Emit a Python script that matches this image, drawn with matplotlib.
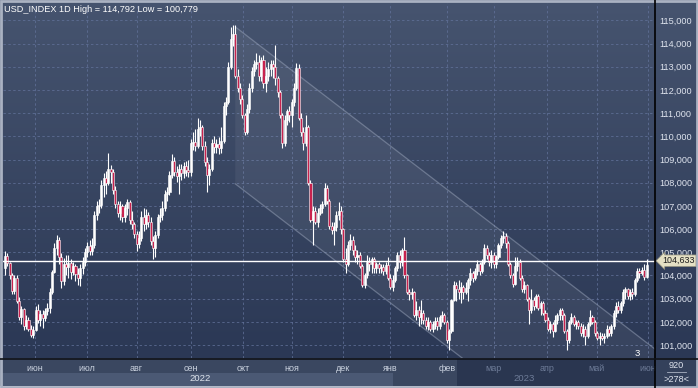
import numpy as np
import matplotlib.pyplot as plt
import matplotlib.colors as mcolors
from matplotlib.patches import Rectangle
from matplotlib.transforms import blended_transform_factory

plt.rcParams['font.family'] = ['Liberation Sans', 'DejaVu Sans']

W, H = 698, 388

# ── DATA: USD_INDEX daily candles ────────────────────────────────────────────
opens = [
    104.3, 104.85, 104.55, 104.0, 103.35, 103.9, 102.9, 102.2, 102.55, 101.8,
    102.1, 101.7, 101.45, 101.65, 102.5, 102.1, 102.35, 102.15, 102.45, 102.6,
    103.3, 104.15, 105.2, 105.55, 104.8, 103.75, 104.5, 104.35, 104.55, 104.15,
    104.4, 104.05, 103.9, 104.3, 104.6, 105.0, 105.25, 105.05, 105.3, 106.6,
    107.0, 107.05, 107.9, 108.2, 108.0, 108.6, 108.45, 107.7, 107.1, 106.7,
    107.0, 106.5, 106.9, 107.15, 106.4, 106.2, 105.8, 105.35, 105.6, 106.5,
    106.2, 106.6, 106.3, 105.5, 105.2, 105.75, 106.5, 106.6, 106.9, 107.5,
    107.6, 108.35, 108.95, 108.45, 108.3, 108.6, 108.4, 108.7, 108.55, 108.45,
    109.7, 109.75, 109.6, 110.3, 110.4, 109.6, 108.9, 108.35, 108.6, 109.7,
    109.55, 109.65, 109.5, 109.8, 111.3, 111.5, 113.0, 114.2, 114.4, 112.6,
    112.1, 111.6, 110.9, 110.2, 111.2, 112.1, 112.8, 113.1, 113.2, 112.6,
    113.3, 112.3, 112.6, 112.9, 113.1, 113.0, 112.5, 111.9, 110.9, 109.7,
    110.7, 111.1, 110.9, 111.5, 112.1, 112.95, 110.8, 110.2, 109.7, 110.4,
    108.0, 106.4, 106.8, 106.3, 106.7, 106.9, 107.1, 107.75, 107.2, 106.15,
    105.95, 106.1, 106.6, 106.8, 106.0, 104.7, 104.5, 105.3, 105.55, 105.1,
    104.8, 104.9, 104.4, 103.6, 104.0, 104.6, 104.5, 104.7, 104.3, 104.5,
    104.3, 104.35, 104.2, 104.45, 103.9, 103.5, 103.8, 104.3, 104.9, 104.6,
    105.1, 104.0, 103.3, 103.2, 103.3, 102.3, 102.5, 102.2, 102.4, 102.1,
    101.8, 102.0, 101.7, 101.9, 102.05, 101.8, 102.2, 102.3, 102.0, 101.2,
    101.6, 102.95, 103.6, 103.4, 103.3, 103.5, 103.3, 103.45, 103.8, 104.1,
    103.9, 104.2, 104.5, 104.2, 104.6, 105.2, 104.9, 104.6, 104.9, 104.5,
    104.8, 105.3, 105.6, 105.7, 105.4, 104.5, 104.0, 103.65, 104.4, 104.6,
    103.9, 103.4, 103.6, 103.0, 102.5, 102.95, 102.7, 103.1, 102.6, 102.8,
    102.4, 102.1, 101.7, 101.9, 101.6, 102.1, 102.3, 102.5, 102.3, 101.6,
    101.2, 102.0, 102.2, 101.9, 102.0, 101.8, 101.5, 101.7, 101.4, 101.9,
    102.2, 102.0, 101.5, 101.3, 101.4, 101.3, 101.4, 101.7, 101.5, 101.8,
    102.4, 102.7, 102.5, 102.8, 103.3, 103.4, 103.1, 103.3, 103.2, 103.8,
    104.2, 104.1, 104.25, 103.95,
]
highs = [
    105.05, 104.95, 104.6, 104.1, 104.0, 104.0, 103.05, 102.7, 102.6, 102.3,
    102.2, 101.85, 101.8, 102.7, 102.75, 102.5, 102.5, 102.6, 102.8, 103.45,
    104.25, 105.4, 105.75, 105.65, 104.95, 104.75, 104.9, 104.9, 104.7, 104.6,
    104.5, 104.3, 104.5, 104.8, 105.2, 105.45, 105.55, 105.6, 106.8, 107.2,
    107.3, 108.1, 108.4, 108.5, 109.3, 108.75, 108.6, 107.85, 107.2, 107.2,
    107.1, 107.1, 107.3, 107.25, 106.8, 106.3, 105.9, 105.9, 106.8, 106.9,
    106.85, 106.75, 106.5, 105.7, 105.9, 106.65, 106.9, 107.2, 107.7, 107.8,
    108.5, 109.25, 109.1, 108.7, 108.8, 108.8, 108.9, 108.95, 109.0, 109.9,
    110.2, 110.3, 110.8, 110.7, 110.5, 109.8, 109.1, 108.8, 109.9, 110.0,
    109.9, 109.95, 110.4, 111.5, 111.7, 113.2, 114.7, 114.78, 114.792, 112.9,
    112.3, 111.8, 111.0, 111.4, 112.3, 113.0, 113.3, 113.6, 113.5, 113.4,
    113.5, 113.0, 113.2, 113.3, 113.3, 113.95, 112.6, 112.0, 111.0, 110.9,
    111.2, 111.3, 111.6, 112.3, 113.15, 113.1, 111.0, 110.4, 110.9, 110.5,
    108.1, 107.0, 106.95, 106.9, 107.1, 107.2, 108.0, 107.9, 107.3, 106.3,
    106.3, 106.8, 107.15, 107.0, 106.05, 105.2, 105.5, 105.8, 105.7, 105.3,
    105.1, 105.0, 104.5, 104.1, 104.9, 104.8, 104.8, 104.8, 104.6, 104.6,
    104.5, 104.5, 104.6, 104.8, 104.05, 104.0, 104.4, 105.0, 105.1, 105.2,
    105.65, 104.05, 103.4, 103.45, 103.35, 102.9, 102.7, 102.95, 102.5, 102.2,
    102.2, 102.1, 102.05, 102.2, 102.2, 102.3, 102.45, 102.4, 102.1, 101.7,
    103.0, 103.75, 103.7, 103.8, 103.7, 103.6, 103.7, 103.9, 104.3, 104.2,
    104.3, 104.65, 104.6, 104.7, 105.35, 105.3, 105.0, 105.1, 105.0, 104.9,
    105.4, 105.75, 105.9, 105.85, 105.5, 104.6, 104.1, 104.8, 104.8, 104.7,
    104.0, 103.75, 103.65, 103.05, 103.4, 103.05, 103.2, 103.2, 102.9, 102.9,
    102.5, 102.2, 102.05, 102.0, 102.3, 102.4, 102.6, 102.6, 102.4, 101.7,
    102.1, 102.4, 102.3, 102.1, 102.1, 101.95, 101.9, 101.8, 102.0, 102.5,
    102.3, 102.1, 101.6, 101.55, 101.5, 101.5, 101.85, 101.8, 101.9, 102.5,
    102.85, 102.9, 102.9, 103.4, 103.5, 103.45, 103.4, 103.45, 103.9, 104.3,
    104.3, 104.35, 104.5, 104.7,
]
lows = [
    104.0, 104.4, 103.85, 103.2, 103.2, 102.8, 102.1, 101.9, 101.65, 101.7,
    101.6, 101.35, 101.3, 101.6, 101.95, 101.8, 101.75, 102.05, 102.3, 102.4,
    103.2, 104.1, 104.9, 104.5, 103.45, 103.6, 104.0, 103.9, 103.85, 104.0,
    103.75, 103.6, 103.55, 104.05, 104.4, 104.8, 104.9, 104.9, 105.2, 106.4,
    106.7, 106.9, 107.4, 107.5, 107.9, 108.0, 107.5, 106.9, 106.5, 106.4,
    106.3, 106.3, 106.6, 106.2, 106.0, 105.6, 105.05, 105.2, 105.5, 105.9,
    106.0, 106.1, 105.3, 104.7, 104.8, 105.6, 106.3, 106.4, 106.8, 107.2,
    107.45, 108.2, 108.3, 108.05, 107.5, 108.1, 108.2, 108.3, 108.25, 108.3,
    109.4, 109.35, 109.5, 110.0, 109.4, 108.7, 107.6, 107.9, 108.5, 109.3,
    109.3, 109.25, 109.3, 109.7, 110.9, 111.4, 112.9, 113.9, 112.5, 111.9,
    111.4, 110.8, 110.05, 110.1, 111.0, 111.9, 112.6, 112.9, 112.4, 112.4,
    112.1, 111.9, 112.4, 112.6, 112.5, 112.2, 111.7, 110.8, 109.5, 109.6,
    110.5, 110.6, 110.4, 111.3, 112.0, 110.7, 110.0, 109.4, 109.6, 107.9,
    106.3, 105.3, 106.2, 106.1, 106.6, 106.7, 107.0, 107.1, 106.0, 105.8,
    105.3, 105.9, 106.4, 105.8, 104.6, 104.1, 104.4, 105.1, 104.9, 104.6,
    104.5, 104.3, 103.5, 103.46, 103.9, 104.2, 104.1, 104.1, 104.1, 104.1,
    104.1, 104.0, 104.05, 103.8, 103.4, 103.35, 103.7, 104.2, 104.3, 104.4,
    103.9, 103.2, 102.95, 103.0, 102.2, 102.1, 101.8, 101.9, 101.9, 101.7,
    101.65, 101.6, 101.55, 101.7, 101.65, 101.7, 102.0, 101.9, 101.1, 100.779,
    101.5, 102.9, 102.9, 103.0, 102.8, 103.0, 103.2, 102.9, 103.6, 103.7,
    103.8, 104.0, 104.0, 104.1, 104.5, 104.7, 104.4, 104.3, 104.3, 104.3,
    104.7, 105.2, 105.4, 105.2, 104.4, 103.9, 103.5, 103.6, 104.2, 103.8,
    103.3, 103.25, 102.9, 101.9, 102.4, 102.5, 102.6, 102.5, 102.3, 102.3,
    102.0, 101.6, 101.5, 101.35, 101.55, 101.9, 102.1, 102.1, 101.5, 100.8,
    101.1, 101.9, 101.8, 101.7, 101.7, 101.4, 101.35, 101.0, 101.3, 101.8,
    101.9, 101.4, 101.2, 101.0, 101.2, 101.1, 101.3, 101.4, 101.4, 101.7,
    102.2, 102.4, 102.4, 102.7, 103.0, 103.0, 102.95, 103.0, 103.1, 103.7,
    103.9, 104.0, 103.8, 103.9,
]
closes = [
    104.85, 104.55, 104.0, 103.35, 103.9, 102.9, 102.2, 102.55, 101.8, 102.1,
    101.7, 101.45, 101.65, 102.5, 102.1, 102.35, 102.15, 102.45, 102.6, 103.3,
    104.15, 105.2, 105.55, 104.8, 103.75, 104.5, 104.35, 104.55, 104.15, 104.4,
    104.05, 103.9, 104.3, 104.6, 105.0, 105.25, 105.05, 105.3, 106.6, 107.0,
    107.05, 107.9, 108.2, 108.0, 108.6, 108.45, 107.7, 107.1, 106.7, 107.0,
    106.5, 106.9, 107.15, 106.4, 106.2, 105.8, 105.35, 105.6, 106.5, 106.2,
    106.6, 106.3, 105.5, 105.2, 105.75, 106.5, 106.6, 106.9, 107.5, 107.6,
    108.35, 108.95, 108.45, 108.3, 108.6, 108.4, 108.7, 108.55, 108.45, 109.7,
    109.75, 109.6, 110.3, 110.4, 109.6, 108.9, 108.35, 108.6, 109.7, 109.55,
    109.65, 109.5, 109.8, 111.3, 111.5, 113.0, 114.2, 114.4, 112.6, 112.1,
    111.6, 110.9, 110.2, 111.2, 112.1, 112.8, 113.1, 113.2, 112.6, 113.3,
    112.3, 112.6, 112.9, 113.1, 113.0, 112.5, 111.9, 110.9, 109.7, 110.7,
    111.1, 110.9, 111.5, 112.1, 112.95, 110.8, 110.2, 109.7, 110.4, 108.0,
    106.4, 106.8, 106.3, 106.7, 106.9, 107.1, 107.75, 107.2, 106.15, 105.95,
    106.1, 106.6, 106.8, 106.0, 104.7, 104.5, 105.3, 105.55, 105.1, 104.8,
    104.9, 104.4, 103.6, 104.0, 104.6, 104.5, 104.7, 104.3, 104.5, 104.3,
    104.35, 104.2, 104.45, 103.9, 103.5, 103.8, 104.3, 104.9, 104.6, 105.1,
    104.0, 103.3, 103.2, 103.3, 102.3, 102.5, 102.2, 102.4, 102.1, 101.8,
    102.0, 101.7, 101.9, 102.05, 101.8, 102.2, 102.3, 102.0, 101.2, 101.6,
    102.95, 103.6, 103.4, 103.3, 103.5, 103.3, 103.45, 103.8, 104.1, 103.9,
    104.2, 104.5, 104.2, 104.6, 105.2, 104.9, 104.6, 104.9, 104.5, 104.8,
    105.3, 105.6, 105.7, 105.4, 104.5, 104.0, 103.65, 104.4, 104.6, 103.9,
    103.4, 103.6, 103.0, 102.5, 102.95, 102.7, 103.1, 102.6, 102.8, 102.4,
    102.1, 101.7, 101.9, 101.6, 102.1, 102.3, 102.5, 102.3, 101.6, 101.2,
    102.0, 102.2, 101.9, 102.0, 101.8, 101.5, 101.7, 101.4, 101.9, 102.2,
    102.0, 101.5, 101.3, 101.4, 101.3, 101.4, 101.7, 101.5, 101.8, 102.4,
    102.7, 102.5, 102.8, 103.3, 103.4, 103.1, 103.3, 103.2, 103.8, 104.2,
    104.1, 104.25, 103.95, 104.45,
]
last_price = 104.633

# descending channel: starts at bar 98, upper / lower price there, slope per bar
chan_start = 98
chan_upper = 114.72
chan_lower = 107.95
chan_slope = -0.0778

months = ["июн", "июл", "авг", "сен", "окт", "ноя", "дек",
          "янв", "фев", "мар", "апр", "май", "июн"]
month_pos = [12.8, 35, 56, 79, 101.4, 122, 144, 164, 188, 208, 230.5, 251.8, 273.7]
years = ["2022", "2023"]
year_pos = [83, 221]
price_ticks = list(range(101, 116))

# ── FIGURE ───────────────────────────────────────────────────────────────────
fig = plt.figure(figsize=(W / 100, H / 100), dpi=100)

bg = fig.add_axes([0, 0, 1, 1])
bg.set_xlim(0, W)
bg.set_ylim(H, 0)
bg.axis("off")
c_top = np.array(mcolors.to_rgb("#46546f"))
c_bot = np.array(mcolors.to_rgb("#2b3855"))
t = np.linspace(0, 1, 256)[:, None, None]
grad = (1 - t) * c_top + t * c_bot
bg.imshow(grad, extent=(0, W, 358, 0), aspect="auto", interpolation="bilinear")
bg.add_patch(Rectangle((0, 358), W, 15, color="#3a4760", lw=0))
bg.add_patch(Rectangle((0, 373), 393, 13, color="#4b5974", lw=0))
bg.add_patch(Rectangle((393, 373), 64, 13, color="#3a4760", lw=0))
bg.add_patch(Rectangle((457, 359), 198, 27, color="#2a3650", lw=0))
bg.add_patch(Rectangle((655, 358), 43, 30, color="#34415b", lw=0))

ax = fig.add_axes([3 / W, (H - 358) / H, 652 / W, 355 / H])
ax.set_facecolor("none")
ax.set_xlim(-0.85, 276.6)
ax.set_ylim(100.44, 115.75)
for s in ax.spines.values():
    s.set_visible(False)

ax.set_yticks(price_ticks)
ax.set_yticklabels([f"{v:.3f}".replace(".", ",") for v in price_ticks])
ax.yaxis.tick_right()
ax.tick_params(axis="y", length=0, pad=3, labelsize=6.6, labelcolor="#dfe4ee")
ax.set_xticks(month_pos)
ax.set_xticklabels(months)
ax.tick_params(axis="x", length=0, pad=4.5, labelsize=6.5)
for k, lab in enumerate(ax.get_xticklabels()):
    lab.set_color("#6d7b97" if k >= 9 else "#c9d1de")
ax.grid(True, color="#62729a", linestyle=(0, (2.5, 2.5)), linewidth=0.7, alpha=0.75)
ax.set_axisbelow(True)

# channel
cx = np.linspace(chan_start, 277, 60)
up = chan_upper + chan_slope * (cx - chan_start)
lo = chan_lower + chan_slope * (cx - chan_start)
ax.fill_between(cx, lo, up, color="white", alpha=0.06, lw=0, zorder=1)
ax.plot(cx, up, color="#9aa5bb", lw=0.9, alpha=0.5, zorder=1.5)
ax.plot(cx, lo, color="#9aa5bb", lw=0.9, alpha=0.5, zorder=1.5)

# candles
x = np.arange(len(closes))
o = np.array(opens)
c = np.array(closes)
ax.vlines(x, lows, highs, color="white", lw=0.8, zorder=3)
bottom = np.minimum(o, c)
height = np.maximum(np.abs(c - o), 0.03)
face = np.where(c >= o, "white", "#c8224e")
ax.bar(x, height, bottom=bottom, width=0.86, color=face, edgecolor="white",
       linewidth=0.4, zorder=4)

ax.axhline(last_price, color="white", lw=1.0, zorder=5)

tr = blended_transform_factory(ax.transAxes, ax.transData)
ax.text(1.011, last_price, f"{last_price:.3f}".replace(".", ","), transform=tr,
        ha="left", va="center", fontsize=6.4, color="#1c1c1c", zorder=6,
        bbox=dict(boxstyle="larrow,pad=0.15", fc="#e4e0c4", ec="#8e8c7a", lw=0.5))

xt = ax.get_xaxis_transform()
for k, (yl, yp) in enumerate(zip(years, year_pos)):
    ax.text(yp, -0.059, yl, transform=xt, ha="center", va="center", fontsize=6.8,
            color="#6d7b97" if k == 1 else "#dde3ec")

# overlay decorations
ov = fig.add_axes([0, 0, 1, 1])
ov.set_xlim(0, W)
ov.set_ylim(H, 0)
ov.axis("off")
ov.patch.set_alpha(0)
ov.plot([655, 655], [0, H], color="black", lw=1.2)
ov.plot([0, W], [358.5, 358.5], color="#101318", lw=1.2)
ov.add_patch(Rectangle((0.8, 0.8), W - 1.6, H - 1.6, fill=False, ec="#aab2c2", lw=2))
hi, lw_ = max(highs), min(lows)
ov.text(4, 9, f"USD_INDEX 1D High = {hi:.3f} Low = {lw_:.3f}".replace(".", ","),
        ha="left", va="center", fontsize=6.6, color="white")
ov.text(637, 353, "3", ha="center", va="center", fontsize=6.8, color="white")
ov.text(676, 366, "920", ha="center", va="center", fontsize=6.6, color="#dfe4ee")
ov.plot([667, 686], [372, 372], color="#aab2c2", lw=0.6)
ov.text(676, 380, ">278<", ha="center", va="center", fontsize=6.6, color="#dfe4ee")

fig.savefig("out.png", dpi=100)
